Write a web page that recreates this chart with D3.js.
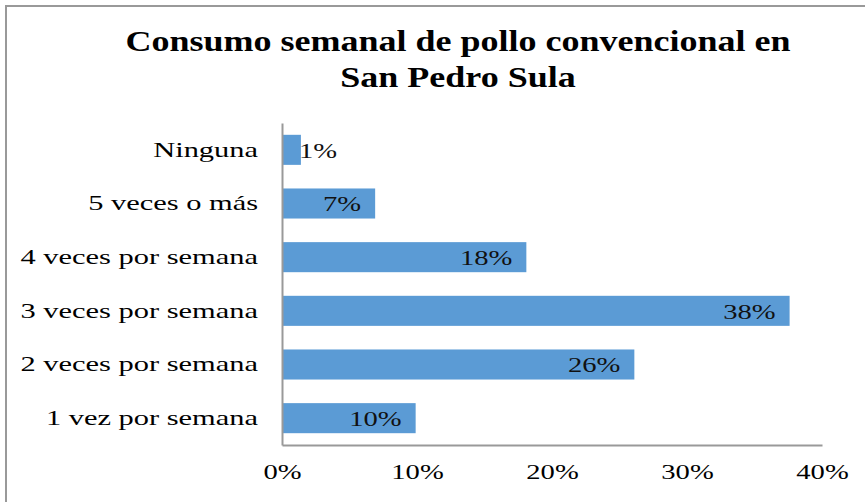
<!DOCTYPE html>
<html>
<head>
<meta charset="utf-8">
<script src="https://cdn.jsdelivr.net/npm/d3@7"></script>
<style>
  body { margin: 0; background: #fff; }
  text { font-family: "Liberation Serif", "Times New Roman", serif; }
</style>
</head>
<body>
<svg id="chart" width="865" height="502"></svg>
<script>
// chart data, top to bottom as drawn
const categories = ["Ninguna", "5 veces o más", "4 veces por semana", "3 veces por semana", "2 veces por semana", "1 vez por semana"]
const values = [1.4, 6.9, 18.1, 37.6, 26.1, 9.9]
const valueLabels = ["1%", "7%", "18%", "38%", "26%", "10%"]
const xTicks = [0, 10, 20, 30, 40]
const titleLines = ["Consumo semanal de pollo convencional en", "San Pedro Sula"]

// the original picture is stretched sideways, so text gets a horizontal scale
const titleStretch = 1.2
const labelStretch = 1.45
const numStretch = 1.3

const svg = d3.select("#chart")

// outer frame (only top/left edges show in the window)
svg.append("rect")
  .attr("x", 6).attr("y", 6)
  .attr("width", 900).attr("height", 600)
  .attr("fill", "none")
  .attr("stroke", "#999")
  .attr("stroke-width", 2)

svg.append("g").selectAll("text")
  .data(titleLines)
  .join("text")
  .attr("transform", (d, i) => `translate(458,${51 + i * 36}) scale(${titleStretch},1)`)
  .attr("text-anchor", "middle")
  .attr("font-size", 30)
  .attr("font-weight", "bold")
  .attr("fill", "#000")
  .text(d => d)

const margin = { left: 282, right: 43, top: 123, bottom: 57 }
const width = 865 - margin.left - margin.right
const height = 502 - margin.top - margin.bottom

const x = d3.scaleLinear().domain([0, 40]).range([0, width])
const y = d3.scaleBand().domain(categories).range([0, height]).paddingInner(0.44).paddingOuter(0.22)

const g = svg.append("g").attr("transform", `translate(${margin.left},${margin.top})`)

g.selectAll("rect.bar")
  .data(categories)
  .join("rect")
  .attr("class", "bar")
  .attr("x", 0)
  .attr("y", d => y(d))
  .attr("width", (d, i) => x(values[i]))
  .attr("height", y.bandwidth())
  .attr("fill", "#5b9bd5")

// x axis
const xAxis = g.append("g")
  .attr("transform", `translate(0,${height})`)
  .call(d3.axisBottom(x).tickValues(xTicks).tickFormat(d => d + "%").tickSize(0).tickPadding(18))
xAxis.select(".domain").attr("stroke", "#999").attr("stroke-width", 2)
xAxis.selectAll("text")
  .attr("font-size", 22)
  .attr("fill", "#000")
  .attr("transform", `scale(${numStretch},1)`)
  .style("font-family", '"Liberation Serif", serif')

// y axis
const yAxis = g.append("g")
  .call(d3.axisLeft(y).tickSize(0).tickPadding(24))
yAxis.select(".domain").attr("stroke", "#999").attr("stroke-width", 2)
yAxis.selectAll("text")
  .attr("font-size", 21)
  .attr("fill", "#000")
  .attr("x", -24 / labelStretch)
  .attr("transform", `scale(${labelStretch},1)`)
  .style("font-family", '"Liberation Serif", serif')

// value labels, right aligned inside bar end; spill past narrow bars
g.selectAll("text.val")
  .data(categories)
  .join("text")
  .attr("class", "val")
  .attr("dy", "0.35em")
  .attr("font-size", 22)
  .attr("fill", "#111")
  .text((d, i) => valueLabels[i])
  .each(function (d, i) {
    const w = this.getComputedTextLength() * numStretch
    const end = x(values[i])
    const cy = y(d) + y.bandwidth() / 2
    const sel = d3.select(this)
    if (end - 14 - w < 0) {
      sel.attr("text-anchor", "start")
        .attr("transform", `translate(${end - 2},${cy}) scale(${numStretch},1)`)
    } else {
      sel.attr("text-anchor", "end")
        .attr("transform", `translate(${end - 14},${cy}) scale(${numStretch},1)`)
    }
  })
</script>
</body>
</html>
